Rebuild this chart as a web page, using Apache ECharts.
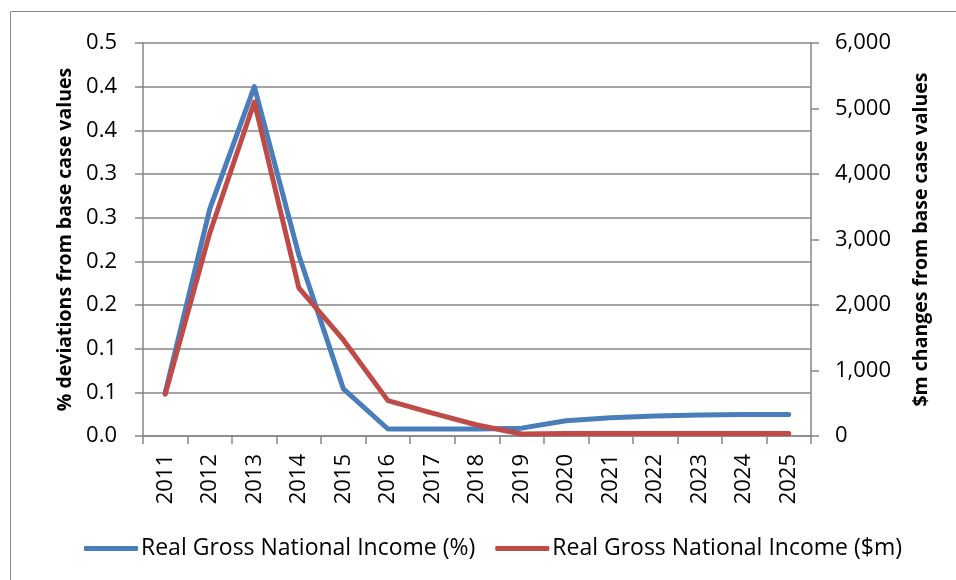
<!DOCTYPE html>
<html>
<head>
<meta charset="utf-8">
<style>
  html, body { margin: 0; padding: 0; background: #fff; }
  #chart { width: 956px; height: 580px; }
</style>
<script src="https://cdn.jsdelivr.net/npm/echarts@6/dist/echarts.min.js"></script>
</head>
<body>
<div id="chart"></div>
<script>
// Years on the category axis
const years = ['2011', '2012', '2013', '2014', '2015', '2016', '2017', '2018',
               '2019', '2020', '2021', '2022', '2023', '2024', '2025'];

// Real GNI, % deviation from base case (left axis)
const gniPercent = [0.05, 0.26, 0.40, 0.207, 0.054, 0.008, 0.008, 0.008,
                    0.009, 0.0175, 0.021, 0.023, 0.024, 0.0245, 0.0245];

// Real GNI, $m change from base case (right axis)
const gniDollars = [640, 3100, 5100, 2260, 1466, 540, 350, 168,
                    30, 40, 40, 40, 40, 40, 40];

const seriesNames = ['Real Gross National Income (%)', 'Real Gross National Income ($m)'];
const leftAxisTitle = '% deviations from base case values';
const rightAxisTitle = '$m changes from base case values';

const FONT = '"Open Sans", Lato, sans-serif';
const AXIS_GREY = '#868686';
const BLUE = '#4A7EBB';
const RED = '#BE4B48';

const chart = echarts.init(document.getElementById('chart'), null, { renderer: 'canvas' });

chart.setOption({
  animation: false,
  backgroundColor: '#ffffff',
  textStyle: { fontFamily: FONT, color: '#000' },
  graphic: [{
    type: 'rect',
    shape: { x: 10.5, y: 11.5, width: 1000, height: 1000 },
    style: { fill: 'none', stroke: '#8a8a8a', lineWidth: 1 },
    silent: true
  }],
  grid: { left: 143, right: 145, top: 43, bottom: 144, containLabel: false },
  legend: {
    left: 79,
    top: 532,
    itemWidth: 54,
    itemHeight: 5,
    itemGap: 20,
    icon: 'roundRect',
    textStyle: { fontFamily: FONT, fontSize: 23, color: '#000', padding: [0, 0, 0, -2] },
    data: seriesNames
  },
  xAxis: {
    type: 'category',
    data: years,
    boundaryGap: true,
    axisLine: { show: true, lineStyle: { color: AXIS_GREY, width: 1.5 } },
    axisTick: { show: true, length: 8, alignWithLabel: false, lineStyle: { color: AXIS_GREY, width: 1.5 } },
    axisLabel: { rotate: 90, fontSize: 22, color: '#000', margin: 18, fontFamily: FONT },
    splitLine: { show: false }
  },
  yAxis: [{
    type: 'value',
    position: 'left',
    min: 0,
    max: 0.45,
    interval: 0.05,
    name: leftAxisTitle,
    nameLocation: 'middle',
    nameRotate: 90,
    nameGap: 65,
    nameTextStyle: { fontFamily: FONT, fontSize: 19.5, fontWeight: 'bold', color: '#000' },
    axisLine: { show: true, lineStyle: { color: AXIS_GREY, width: 1.5 } },
    axisTick: { show: true, length: 8, lineStyle: { color: AXIS_GREY, width: 1.5 } },
    axisLabel: {
      fontSize: 22, color: '#000', margin: 26, fontFamily: FONT,
      formatter: v => (Math.round(v * 10 + 1e-9) / 10).toFixed(1)
    },
    splitLine: { show: true, lineStyle: { color: AXIS_GREY, width: 1.5 } }
  }, {
    type: 'value',
    position: 'right',
    min: 0,
    max: 6000,
    interval: 1000,
    name: rightAxisTitle,
    nameLocation: 'middle',
    nameRotate: 90,
    nameGap: 100,
    nameTextStyle: { fontFamily: FONT, fontSize: 19.5, fontWeight: 'bold', color: '#000' },
    axisLine: { show: true, lineStyle: { color: AXIS_GREY, width: 1.5 } },
    axisTick: { show: true, length: 8, lineStyle: { color: AXIS_GREY, width: 1.5 } },
    axisLabel: {
      fontSize: 22, color: '#000', margin: 24, fontFamily: FONT,
      formatter: v => v.toLocaleString('en-US')
    },
    splitLine: { show: false }
  }],
  series: [{
    name: seriesNames[0],
    type: 'line',
    yAxisIndex: 0,
    data: gniPercent,
    symbol: 'none',
    lineStyle: { color: BLUE, width: 5, cap: 'round', join: 'round' },
    itemStyle: { color: BLUE },
    z: 3
  }, {
    name: seriesNames[1],
    type: 'line',
    yAxisIndex: 1,
    data: gniDollars,
    symbol: 'none',
    lineStyle: { color: RED, width: 5, cap: 'round', join: 'round' },
    itemStyle: { color: RED },
    z: 4
  }]
});
</script>
</body>
</html>
